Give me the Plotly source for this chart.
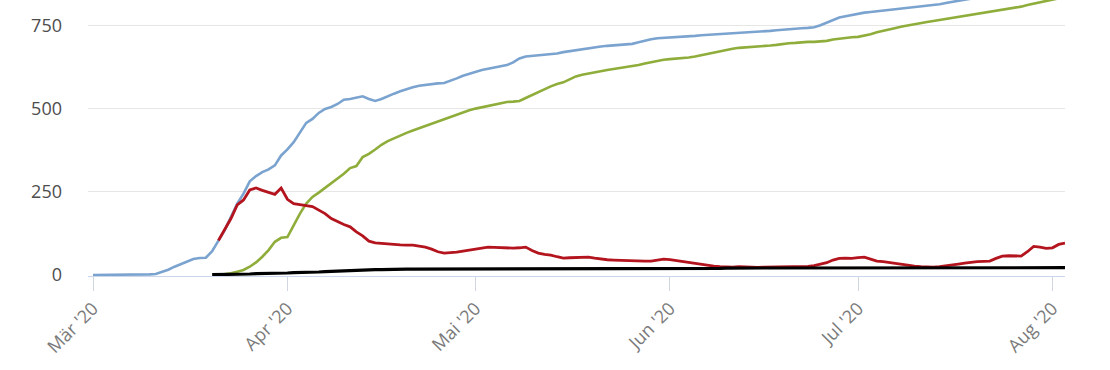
import plotly.graph_objects as go
import pandas as pd

dates = pd.date_range("2020-03-01", "2020-08-03", freq="D")

# Infizierte (kumuliert) - blue
confirmed = [
    0, 0, 0, 1, 1, 1, 1, 1, 2, 2,
    3, 9, 16, 25, 32, 40, 48, 51, 52, 72,
    105, 135, 175, 215, 245, 282, 298, 310, 318, 330,
    360, 378, 400, 430, 458, 470, 488, 500, 506, 515,
    528, 530, 535, 538, 530, 524, 530, 539, 546, 553,
    560, 565, 570, 573, 575, 577, 578, 584, 592, 600,
    606, 612, 617, 621, 624, 628, 632, 640, 652, 658,
    660, 661, 663, 664, 667, 671, 674, 677, 681, 684,
    686, 688, 690, 692, 693, 694, 696, 701, 706, 710,
    713, 714, 714, 715, 716, 718, 720, 722, 723, 724,
    726, 727, 728, 729, 730, 731, 732, 733, 735, 737,
    739, 741, 742, 743, 744, 746, 752, 760, 767, 775,
    779, 783, 787, 790, 792, 794, 795, 797, 800, 803,
    805, 807, 809, 811, 813, 815, 819, 823, 826, 829,
    832, 834, 836, 839, 841, 843, 846, 848, 850, 853,
    856, 858, 861, 864, 866, 869,
]

# Genesene (kumuliert) - green
recovered = [None] * 20 + [
    0, 2, 5, 10, 15, 25, 38, 55, 75, 100,
    112, 114, 150, 185, 215, 235, 248, 262, 275, 290,
    305, 322, 328, 355, 365, 378, 392, 403, 412, 420,
    428, 435, 442, 448, 455, 461, 468, 476, 483, 490,
    496, 501, 505, 508, 512, 518, 521, 522, 524, 533,
    542, 552, 560, 568, 575, 580, 589, 598, 603, 607,
    611, 615, 617, 620, 623, 625, 628, 632, 637, 641,
    645, 648, 650, 651, 653, 655, 658, 662, 665, 669,
    675, 678, 681, 684, 685, 686, 687, 689, 691, 693,
    696, 698, 699, 701, 702, 702, 703, 705, 709, 712,
    714, 716, 717, 720, 725, 731, 736, 740, 744, 748,
    752, 756, 759, 762, 765, 768, 771, 773, 776, 779,
    783, 786, 789, 792, 795, 798, 801, 804, 808, 813,
    817, 822, 826, 829, 833, 837,
]

# Aktive Fälle - red
active = [None] * 20 + [
    104, 135, 170, 211, 226, 256, 262, 255, 248, 243,
    262, 228, 215, 211, 209, 206, 195, 185, 170, 160,
    152, 145, 130, 118, 102, 97, 95, 93, 92, 91,
    90, 90, 87, 84, 78, 70, 66, 67, 69, 72,
    75, 79, 82, 84, 83, 82, 81, 81, 82, 84,
    74, 66, 62, 60, 55, 51, 52, 53, 54, 54,
    51, 48, 46, 45, 44, 43, 42, 42, 42, 42,
    44, 48, 46, 43, 41, 39, 36, 33, 30, 27,
    25, 24, 24, 25, 24, 24, 23, 24, 24, 25,
    24, 24, 24, 25, 26, 28, 32, 37, 45, 50,
    51, 50, 52, 54, 48, 42, 40, 37, 34, 31,
    29, 27, 25, 24, 24, 25, 27, 30, 33, 36,
    39, 40, 41, 42, 50, 57, 58, 58, 57, 70,
    86, 84, 80, 82, 92, 96,
]

# Verstorbene (kumuliert) - black
deaths = [None] * 19 + [
    1, 1, 1, 2, 2, 3, 3, 4, 4, 5,
    5, 6, 6, 7, 7, 8, 8, 9, 10, 11,
    12, 13, 13, 14, 15, 15, 16, 16, 17, 17,
    18, 18, 18, 18, 19, 19, 19, 19, 19, 19,
    19, 19,
] + [20] * 40 + [21] * 30 + [22] * 25

month_ticks = ["2020-03-01", "2020-04-01", "2020-05-01", "2020-06-01", "2020-07-01", "2020-08-01"]
month_labels = ["Mär '20", "Apr '20", "Mai '20", "Jun '20", "Jul '20", "Aug '20"]
y_ticks = [0, 250, 500, 750]

series = [
    ("Infizierte", confirmed, "#7ba3cf", 2.6),
    ("Genesene", recovered, "#8fad3a", 2.6),
    ("Aktive", active, "#b3141d", 2.8),
    ("Verstorbene", deaths, "#000000", 3.2),
]

fig = go.Figure()
for name, vals, color, width in series:
    fig.add_trace(go.Scatter(
        x=dates, y=vals, name=name, mode="lines",
        line=dict(color=color, width=width),
        hoverinfo="skip",
    ))

font_family = "Open Sans, DejaVu Sans, sans-serif"

fig.update_layout(
    width=1110, height=370,
    margin=dict(l=88, r=45, t=0, b=94),
    paper_bgcolor="white", plot_bgcolor="white",
    showlegend=False,
    font=dict(family=font_family, size=17, color="#666666"),
    xaxis=dict(
        range=["2020-02-29 04:50", "2020-08-03 00:00"],
        tickvals=month_ticks, ticktext=month_labels,
        tickangle=-45,
        showgrid=False, zeroline=False,
        showline=True, linecolor="#ccd6eb", linewidth=1,
        ticks="outside", ticklen=14, tickcolor="#d0d6e0", tickwidth=1,
        tickfont=dict(size=18, color="#7a7a7a"),
    ),
    yaxis=dict(
        range=[-3, 828],
        tickvals=y_ticks,
        showgrid=True, gridcolor="#e6e6e6", gridwidth=1,
        zeroline=False, showline=False,
        ticks="", ticklabelstandoff=25,
        tickfont=dict(size=18, color="#4d4d4d"),
    ),
    annotations=[dict(
        text="Datum", xref="paper", yref="paper",
        x=0.5, y=-(363 - 276) / 276, xanchor="center", yanchor="top",
        xshift=-4, showarrow=False,
        font=dict(size=18, color="#666666"),
    )],
)

fig.write_html(
    "out.html",
    config={"displayModeBar": False},
    post_script="document.body.style.margin='0';document.body.style.padding='0';",
)
